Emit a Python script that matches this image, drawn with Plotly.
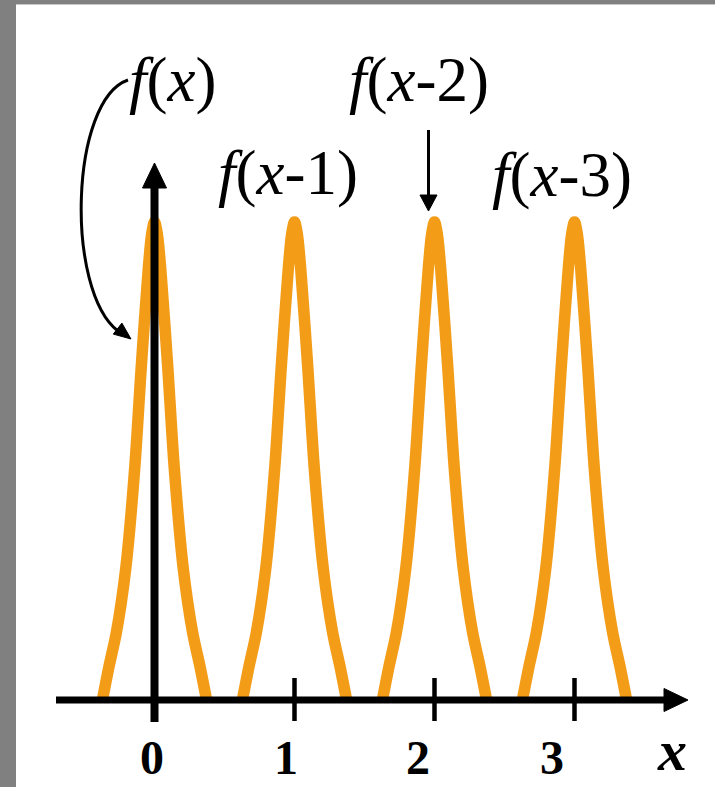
import plotly.graph_objects as go

# Pulse profile f(x): offsets from the peak and heights (peak = 1)
PULSE_DX = [-0.372, -0.325, -0.273, -0.205, -0.14, -0.095, -0.045, -0.02, 0.0,
            0.02, 0.045, 0.095, 0.14, 0.205, 0.273, 0.325, 0.372]
PULSE_Y = [0.0, 0.07, 0.14, 0.276, 0.49, 0.695, 0.90, 0.975, 1.0,
           0.975, 0.90, 0.695, 0.49, 0.276, 0.14, 0.07, 0.0]

# Shifts for f(x), f(x-1), f(x-2), f(x-3)
SHIFTS = [0, 1, 2, 3]
TICK_VALUES = [0, 1, 2, 3]
TICK_LABELS = ["0", "1", "2", "3"]
CURVE_LABELS = ["<i>f</i>(<i>x</i>)", "<i>f</i>(<i>x</i>-1)",
                "<i>f</i>(<i>x</i>-2)", "<i>f</i>(<i>x</i>-3)"]

W, H = 715, 787
X0_PX, UNIT_PX = 154.5, 140.0   # x = 0 position and pixels per unit
BASE_PX, PEAK_PX = 700.0, 478.0  # baseline row and pulse height in pixels

ORANGE = "#F39C17"
SERIF = "Liberation Serif"


def to_xy(px, py):
    """Convert window pixel position to axis units."""
    return (px - X0_PX) / UNIT_PX, (BASE_PX - py) / PEAK_PX


fig = go.Figure()

for k in SHIFTS:
    fig.add_trace(go.Scatter(
        x=[d + k for d in PULSE_DX], y=PULSE_Y, mode="lines",
        line=dict(color=ORANGE, width=11.5, shape="spline", smoothing=0.8),
        hoverinfo="skip", showlegend=False,
    ))

shapes = []


def line(p0, p1, width):
    (x0, y0), (x1, y1) = to_xy(*p0), to_xy(*p1)
    shapes.append(dict(type="line", xref="x", yref="y", x0=x0, y0=y0, x1=x1, y1=y1,
                       line=dict(color="black", width=width), layer="above"))


def tri(points):
    pts = [to_xy(*p) for p in points]
    path = "M " + " L ".join(f"{x},{y}" for x, y in pts) + " Z"
    shapes.append(dict(type="path", xref="x", yref="y", path=path,
                       fillcolor="black", line=dict(color="black", width=1), layer="above"))


# x axis with arrow
line((56, BASE_PX), (666, BASE_PX), 7)
tri([(664, 688.5), (688, BASE_PX), (664, 711.5)])
# y axis with arrow
line((X0_PX, 722), (X0_PX, 186), 8)
tri([(142.5, 188), (X0_PX, 163), (166.5, 188)])
# tick marks
for v in TICK_VALUES[1:]:
    px = X0_PX + v * UNIT_PX
    line((px, 678), (px, 721), 4.5)

# straight arrow pointing to f(x-2)
line((428.5, 130), (428.5, 197), 3)
tri([(420, 195), (428.5, 211), (437, 195)])

# curved arrow from the f(x) label down to the first pulse
c = [to_xy(*p) for p in [(128, 80), (70, 100), (65, 290), (118, 331)]]
shapes.append(dict(
    type="path", xref="x", yref="y",
    path=f"M {c[0][0]},{c[0][1]} C {c[1][0]},{c[1][1]} {c[2][0]},{c[2][1]} {c[3][0]},{c[3][1]}",
    line=dict(color="black", width=3), layer="above"))
tri([(113.3, 334.1), (131, 339), (121.9, 323.1)])

# frame strips along the left and top edges
shapes.append(dict(type="rect", xref="paper", yref="paper", x0=0, x1=16 / W, y0=0, y1=1,
                   fillcolor="#808080", line=dict(width=0), layer="above"))
shapes.append(dict(type="rect", xref="paper", yref="paper", x0=0, x1=1, y0=1 - 4 / H, y1=1,
                   fillcolor="#808080", line=dict(width=0), layer="above"))
shapes.append(dict(type="rect", xref="paper", yref="paper", x0=16 / W, x1=1,
                   y0=1 - 5 / H, y1=1 - 4 / H,
                   fillcolor="#c8c8c8", line=dict(width=0), layer="above"))

annotations = []

# tick labels
tick_shift = [-3, -9, -16.5, -22.5]
for v, lab, s in zip(TICK_VALUES, TICK_LABELS, tick_shift):
    annotations.append(dict(x=v, y=to_xy(0, 757)[1], xref="x", yref="y", text=f"<b>{lab}</b>",
                            showarrow=False, xshift=s, xanchor="center", yanchor="middle",
                            font=dict(family=SERIF, size=48, color="black")))

# axis name
ax, ay = to_xy(672, 750)
annotations.append(dict(x=ax, y=ay, xref="x", yref="y", text="<b><i>x</i></b>", showarrow=False,
                        xanchor="center", yanchor="middle",
                        font=dict(family=SERIF, size=58, color="black")))

# curve labels
label_pos = [(172, 80), (288, 173), (419, 80), (562, 175)]
for lab, (px, py) in zip(CURVE_LABELS, label_pos):
    lx, ly = to_xy(px, py)
    annotations.append(dict(x=lx, y=ly, xref="x", yref="y", text=lab, showarrow=False,
                            xanchor="center", yanchor="middle",
                            font=dict(family=SERIF, size=63, color="black")))

xr = [to_xy(0, 0)[0], to_xy(W, 0)[0]]
yr = [to_xy(0, H)[1], to_xy(0, 0)[1]]

fig.update_layout(
    width=W, height=H, margin=dict(l=0, r=0, t=0, b=0),
    paper_bgcolor="white", plot_bgcolor="white",
    xaxis=dict(range=xr, visible=False, fixedrange=True),
    yaxis=dict(range=yr, visible=False, fixedrange=True),
    shapes=shapes, annotations=annotations, showlegend=False,
)

fig.write_html("out.html")
